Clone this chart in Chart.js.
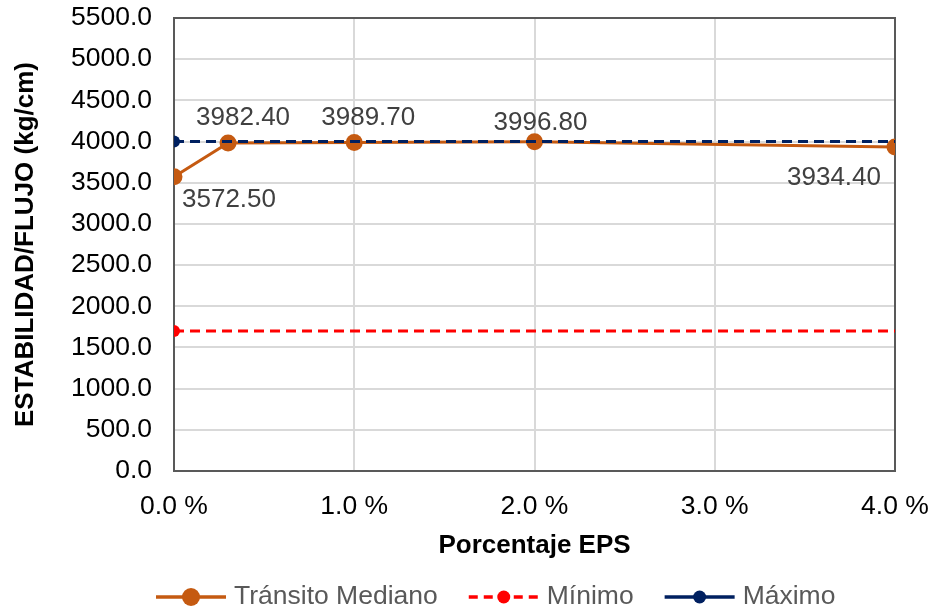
<!DOCTYPE html>
<html>
<head>
<meta charset="utf-8">
<script src="https://cdn.jsdelivr.net/npm/chart.js@4.4.1/dist/chart.umd.min.js"></script>
<style>
  html, body { margin: 0; padding: 0; background: #ffffff; }
  #wrap { width: 933px; height: 612px; }
</style>
</head>
<body>
<div id="wrap"><canvas id="c" width="933" height="612"></canvas></div>
<script>
// Porcentaje de EPS (eje X) y estabilidad/flujo (kg/cm)
const porcentajeEPS = [0, 0.3, 1, 2, 4];
const transitoMediano = [3572.5, 3982.4, 3989.7, 3996.8, 3934.4];
const limitesX = [0, 4];
const minimo = [1700, 1700];
const maximo = [4000, 4000];
const xTickValues = [0, 1, 2, 3, 4];
const yTickStep = 500;
const yMax = 5500;
const seriesNames = ['Tránsito Mediano', 'Mínimo', 'Máximo'];

// label placement around each Tránsito Mediano point (dx, dy in px)
const labelShift = [[55, 23], [15, -25], [14, -25], [6, -19], [-61, 31]];

const FONT = '"Liberation Sans", Arial, sans-serif';
const C_TRANSITO = '#C55A11';
const C_MIN = '#FF0000';
const C_MAX = '#002060';

const toXY = (xs, ys) => xs.map((x, i) => ({ x: x, y: ys[i] }));

// Frame around the plot area
const frame = {
  id: 'frame',
  beforeDatasetsDraw(chart) {
    const { ctx, chartArea: a } = chart;
    ctx.save();
    ctx.strokeStyle = '#595959';
    ctx.lineWidth = 2;
    ctx.strokeRect(a.left, a.top, a.right - a.left, a.bottom - a.top);
    ctx.restore();
  }
};

// Value labels for Tránsito Mediano
const valueLabels = {
  id: 'valueLabels',
  afterDatasetsDraw(chart) {
    const { ctx } = chart;
    const meta = chart.getDatasetMeta(0);
    ctx.save();
    ctx.font = '26px ' + FONT;
    ctx.fillStyle = '#404040';
    ctx.textAlign = 'center';
    ctx.textBaseline = 'middle';
    meta.data.forEach((pt, i) => {
      const v = transitoMediano[i];
      const [dx, dy] = labelShift[i];
      ctx.fillText(v.toFixed(2), pt.x + dx, pt.y + dy);
    });
    ctx.restore();
  }
};

// Bottom legend: line with marker, then the series name
const legendRow = {
  id: 'legendRow',
  afterDraw(chart) {
    const { ctx } = chart;
    const items = [
      { name: seriesNames[0], color: C_TRANSITO, dash: [], r: 9 },
      { name: seriesNames[1], color: C_MIN, dash: [9, 6], r: 6.5 },
      { name: seriesNames[2], color: C_MAX, dash: [], r: 6.5 }
    ];
    const lineW = 70, gapText = 8, gapItem = 31, y = 597;
    ctx.save();
    ctx.font = '26.5px ' + FONT;
    const widths = items.map(it => lineW + gapText + ctx.measureText(it.name).width);
    let x = 156;
    items.forEach((it, i) => {
      ctx.strokeStyle = it.color;
      ctx.lineWidth = 3.5;
      ctx.setLineDash(it.dash);
      ctx.beginPath();
      ctx.moveTo(x, y);
      ctx.lineTo(x + lineW, y);
      ctx.stroke();
      ctx.setLineDash([]);
      ctx.fillStyle = it.color;
      ctx.beginPath();
      ctx.arc(x + lineW / 2, y, it.r, 0, Math.PI * 2);
      ctx.fill();
      ctx.fillStyle = '#595959';
      ctx.textAlign = 'left';
      ctx.textBaseline = 'middle';
      ctx.fillText(it.name, x + lineW + gapText, y);
      x += widths[i] + gapItem;
    });
    ctx.restore();
  }
};

new Chart(document.getElementById('c'), {
  type: 'scatter',
  data: {
    datasets: [
      {
        label: seriesNames[0],
        data: toXY(porcentajeEPS, transitoMediano),
        showLine: true,
        borderColor: C_TRANSITO,
        backgroundColor: C_TRANSITO,
        borderWidth: 3,
        pointRadius: 8.5,
        pointHoverRadius: 8.5,
        pointBorderWidth: 0,
        order: 2
      },
      {
        label: seriesNames[1],
        data: toXY(limitesX, minimo),
        showLine: true,
        borderColor: C_MIN,
        backgroundColor: C_MIN,
        borderWidth: 3,
        borderDash: [10, 6],
        pointRadius: [6, 0],
        pointBorderWidth: 0,
        order: 1
      },
      {
        label: seriesNames[2],
        data: toXY(limitesX, maximo),
        showLine: true,
        borderColor: C_MAX,
        backgroundColor: C_MAX,
        borderWidth: 3,
        borderDash: [10, 6],
        pointRadius: [6, 0],
        pointBorderWidth: 0,
        order: 0
      }
    ]
  },
  options: {
    responsive: false,
    animation: false,
    events: [],
    layout: { padding: { top: 18, right: 38, bottom: 41, left: 0 } },
    plugins: {
      legend: { display: false },
      tooltip: { enabled: false }
    },
    scales: {
      x: {
        type: 'linear',
        min: limitesX[0],
        max: limitesX[1],
        afterBuildTicks(scale) { scale.ticks = xTickValues.map(v => ({ value: v })); },
        afterFit(scale) {
          scale.height = 100;
          scale.paddingLeft = 0;
          scale.paddingRight = 0;
        },
        grid: { color: '#d9d9d9', lineWidth: 2, drawTicks: false },
        border: { display: false },
        ticks: {
          padding: 20,
          color: '#000000',
          font: { family: FONT, size: 26.5 },
          maxRotation: 0,
          callback: v => v.toFixed(1) + ' %'
        },
        title: {
          display: true,
          text: 'Porcentaje EPS',
          color: '#000000',
          font: { family: FONT, size: 26, weight: 'bold' },
          padding: { top: 4, bottom: 10 }
        }
      },
      y: {
        min: 0,
        max: yMax,
        afterFit(scale) {
          scale.width = 174;
          scale.paddingTop = 0;
          scale.paddingBottom = 0;
        },
        grid: { color: '#d9d9d9', lineWidth: 2, drawTicks: false },
        border: { display: false },
        ticks: {
          stepSize: yTickStep,
          padding: 22,
          color: '#000000',
          font: { family: FONT, size: 26.5 },
          callback: v => v.toFixed(1)
        },
        title: {
          display: true,
          text: 'ESTABILIDAD/FLUJO (kg/cm)',
          color: '#000000',
          font: { family: FONT, size: 26, weight: 'bold' },
          padding: { top: 10, bottom: 0 }
        }
      }
    }
  },
  plugins: [frame, valueLabels, legendRow]
});
</script>
</body>
</html>
